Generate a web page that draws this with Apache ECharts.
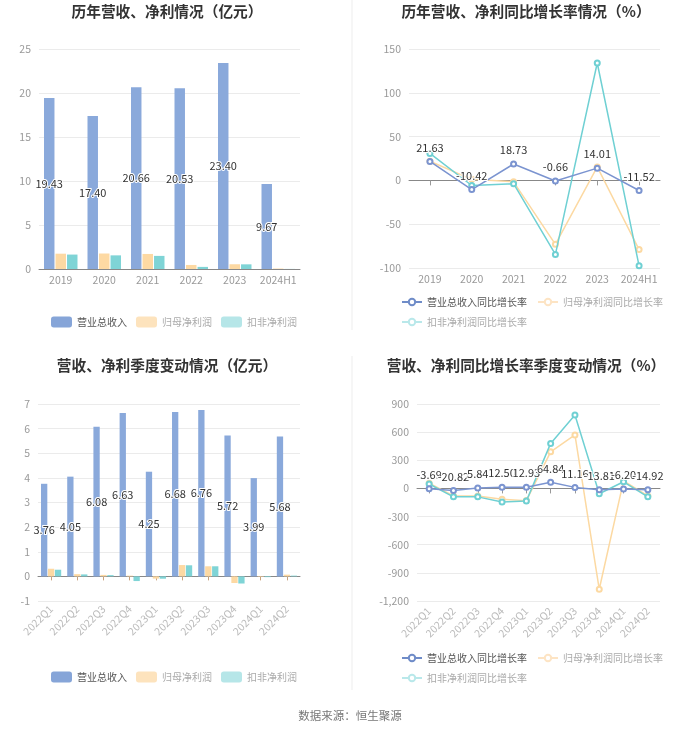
<!DOCTYPE html>
<html><head><meta charset="utf-8">
<script src="https://cdn.jsdelivr.net/npm/echarts@6/dist/echarts.min.js"></script>
<style>html,body{margin:0;padding:0;background:#fff}#c{width:700px;height:734px}</style>
</head><body><div id="c"></div>
<script>
// ---- data ----
const years = ['2019','2020','2021','2022','2023','2024H1'];
const yearRevenue = [19.43,17.40,20.66,20.53,23.40,9.67];
const yearNetProfit = [1.74,1.76,1.71,0.46,0.54,0.05];
const yearDeductedProfit = [1.64,1.55,1.49,0.24,0.53,0.01];
const yearRevenueGrowth = [21.63,-10.42,18.73,-0.66,14.01,-11.52];
const yearNetProfitGrowth = [21.8,1.2,-1.6,-73,15.4,-79];
const yearDeductedGrowth = [30.8,-5.8,-3.8,-84.5,134,-97.5];

const quarters = ['2022Q1','2022Q2','2022Q3','2022Q4','2023Q1','2023Q2','2023Q3','2023Q4','2024Q1','2024Q2'];
const qRevenue = [3.76,4.05,6.08,6.63,4.25,6.68,6.76,5.72,3.99,5.68];
const qNetProfit = [0.31,0.09,0.06,0.03,-0.09,0.46,0.41,-0.27,-0.02,0.07];
const qDeducted = [0.27,0.08,0.05,-0.19,-0.095,0.45,0.41,-0.29,-0.03,0.03];
const qRevenueGrowth = [-3.69,-20.82,5.84,12.50,12.93,64.84,11.16,-13.81,-6.20,-14.92];
const qNetProfitGrowth = [55,-80,-80,-115,-130,390,570,-1075,80,-80];
const qDeductedGrowth = [47,-90,-90,-145,-135,480,783,-57,71,-89];

const barNames = ['营业总收入','归母净利润','扣非净利润'];
const lineNames = ['营业总收入同比增长率','归母净利润同比增长率','扣非净利润同比增长率'];
const titles = ['历年营收、净利情况（亿元）','历年营收、净利同比增长率情况（%）','营收、净利季度变动情况（亿元）','营收、净利同比增长率季度变动情况（%）'];
const sourceText = '数据来源：恒生聚源';

// ---- styles ----
const C = {
  barBlue:'#8aa9db', barOrange:'#fdd9a3', barTeal:'#7fd4d6',
  lineBlue:'#7b94d0', lineOrange:'#fcd9a2', lineTeal:'#6fd0d3'
};
const FONT = '"Noto Sans CJK SC", "Noto Sans", sans-serif';
const fmt2 = p => Number(p.value).toFixed(2);

const valueLabel = {color:'#999', fontSize:10.5};
const split = {show:true, lineStyle:{color:'#ebebeb'}};

function yAxis(gi, min, max, interval){
  return {type:'value', gridIndex:gi, min, max, interval,
    axisLine:{show:false}, axisTick:{show:false},
    axisLabel:valueLabel, splitLine:split};
}
function xAxis(gi, data, opts){
  return Object.assign({type:'category', gridIndex:gi, data,
    axisLine:{show:true, onZero:true, lineStyle:{color:'#888'}},
    axisTick:{show:false},
    axisLabel:{color:'#999', fontSize:10.5, margin:6, interval:0}}, opts||{});
}
function barSeries(gi, rev, np, dp){
  return [
    {name:barNames[0], type:'bar', xAxisIndex:gi, yAxisIndex:gi, data:rev,
      itemStyle:{color:C.barBlue},
      label:{show:true, position:'inside', formatter:fmt2, color:'#333', fontSize:11,
        textBorderColor:'#fff', textBorderWidth:2}},
    {name:barNames[1], type:'bar', xAxisIndex:gi, yAxisIndex:gi, data:np, itemStyle:{color:C.barOrange}},
    {name:barNames[2], type:'bar', xAxisIndex:gi, yAxisIndex:gi, data:dp, itemStyle:{color:C.barTeal}}
  ];
}
function lineSeries(gi, rg, ng, dg){
  const base = {type:'line', xAxisIndex:gi, yAxisIndex:gi, symbol:'emptyCircle', symbolSize:5};
  return [
    Object.assign({}, base, {name:lineNames[0], data:rg, z:4,
      itemStyle:{color:C.lineBlue}, lineStyle:{color:C.lineBlue, width:1.5},
      label:{show:true, position:'top', formatter:fmt2, color:'#333', fontSize:11,
        textBorderColor:'#fff', textBorderWidth:2}}),
    Object.assign({}, base, {name:lineNames[1], data:ng, z:2,
      itemStyle:{color:C.lineOrange}, lineStyle:{color:C.lineOrange, width:1.5}}),
    Object.assign({}, base, {name:lineNames[2], data:dg, z:3,
      itemStyle:{color:C.lineTeal}, lineStyle:{color:C.lineTeal, width:1.5}})
  ];
}
function barLegend(top){
  return {left:51, top, padding:0, itemWidth:21, itemHeight:11, itemGap:9, icon:'roundRect',
    textStyle:{fontSize:10},
    data:[
      {name:barNames[0], itemStyle:{color:'#86a5d8'}, textStyle:{color:'#555'}},
      {name:barNames[1], itemStyle:{color:'#fde3bd'}, textStyle:{color:'#aaa'}},
      {name:barNames[2], itemStyle:{color:'#b6e6e8'}, textStyle:{color:'#aaa'}}
    ]};
}
function lineLegend(top){
  return {left:401, top, width:265, padding:0, itemWidth:20, itemHeight:8, itemGap:10,
    textStyle:{fontSize:10},
    data:[
      {name:lineNames[0], itemStyle:{color:'#6f8cc8'}, lineStyle:{color:'#6f8cc8'}, textStyle:{color:'#555'}},
      {name:lineNames[1], itemStyle:{color:'#fde4c4'}, lineStyle:{color:'#fde4c4'}, textStyle:{color:'#aaa'}},
      {name:lineNames[2], itemStyle:{color:'#b9e8ea'}, lineStyle:{color:'#b9e8ea'}, textStyle:{color:'#aaa'}}
    ]};
}
const titleStyle = {fontSize:14.7, fontWeight:'bold', color:'#333'};

const option = {
  animation:false,
  textStyle:{fontFamily:FONT},
  title:[
    {text:titles[0], left:167, top:4, textAlign:'center', padding:0, textStyle:titleStyle},
    {text:titles[1], left:526, top:4, textAlign:'center', padding:0, textStyle:titleStyle},
    {text:titles[2], left:167, top:358, textAlign:'center', padding:0, textStyle:titleStyle},
    {text:titles[3], left:526, top:358, textAlign:'center', padding:0, textStyle:titleStyle},
    {text:sourceText, left:350, top:710, textAlign:'center', padding:0,
      textStyle:{fontSize:11.5, fontWeight:'normal', color:'#777'}}
  ],
  legend:[ barLegend(316.5), lineLegend(297), barLegend(671.5), lineLegend(653) ],
  grid:[
    {left:39, top:49, width:261, height:220},
    {left:409, top:49, width:251, height:219},
    {left:38, top:404, width:262, height:197},
    {left:417, top:404, width:243, height:197}
  ],
  xAxis:[
    xAxis(0, years),
    xAxis(1, years, {axisTick:{show:true, alignWithLabel:true, length:5, lineStyle:{color:'#999'}}}),
    xAxis(2, quarters, {axisTick:{show:true, alignWithLabel:true, length:4, lineStyle:{color:'#c9a27c'}},
      axisLabel:{color:'#bbb', fontSize:10.5, rotate:45, margin:6, interval:0}}),
    xAxis(3, quarters, {axisTick:{show:true, alignWithLabel:true, length:5, lineStyle:{color:'#999'}},
      axisLabel:{color:'#bbb', fontSize:10.5, rotate:45, margin:8, interval:0}})
  ],
  yAxis:[
    yAxis(0, 0, 25, 5),
    yAxis(1, -100, 150, 50),
    yAxis(2, -1, 7, 1),
    yAxis(3, -1200, 900, 300)
  ],
  series:[].concat(
    barSeries(0, yearRevenue, yearNetProfit, yearDeductedProfit),
    lineSeries(1, yearRevenueGrowth, yearNetProfitGrowth, yearDeductedGrowth),
    barSeries(2, qRevenue, qNetProfit, qDeducted),
    lineSeries(3, qRevenueGrowth, qNetProfitGrowth, qDeductedGrowth)
  ),
  graphic:[
    {type:'line', shape:{x1:352, y1:0, x2:352, y2:330}, style:{stroke:'#f3f3f3', lineWidth:1.5}, silent:true},
    {type:'line', shape:{x1:352, y1:356, x2:352, y2:690}, style:{stroke:'#f3f3f3', lineWidth:1.5}, silent:true}
  ]
};
const chart = echarts.init(document.getElementById('c'), null, {renderer:'canvas'});
chart.setOption(option);
</script>
</body></html>
